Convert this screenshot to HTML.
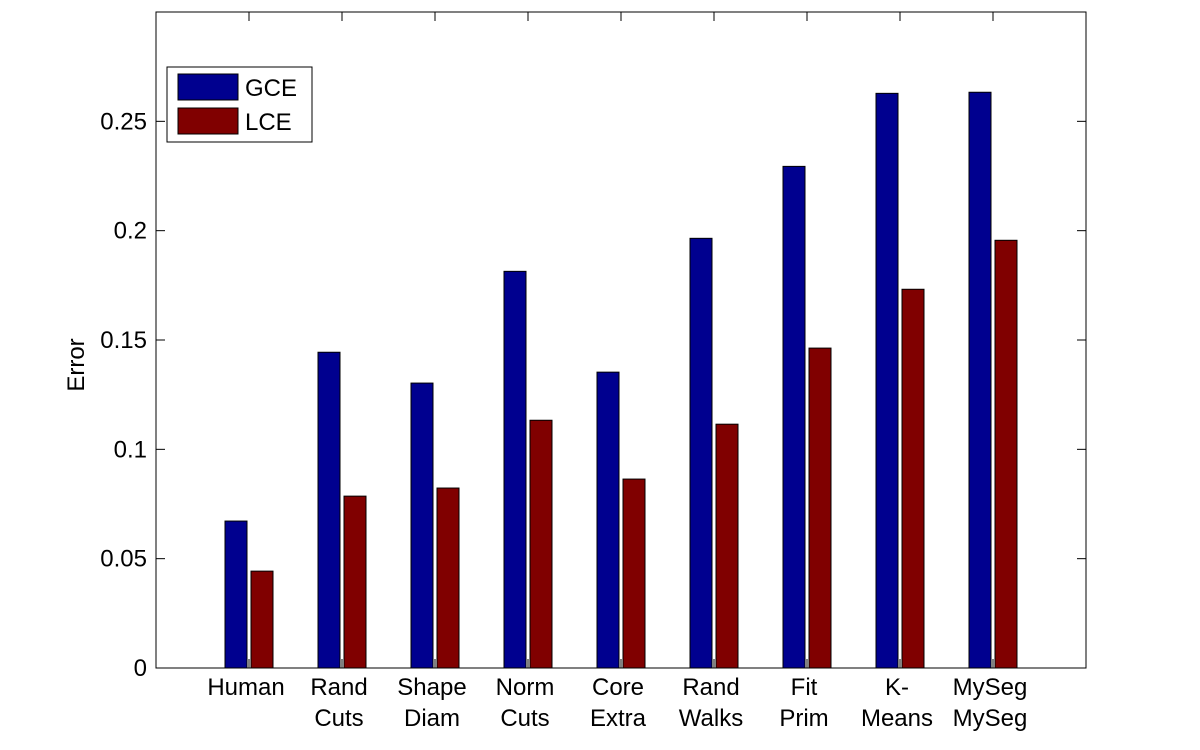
<!DOCTYPE html>
<html><head><meta charset="utf-8"><style>body{margin:0;background:#fff}svg{display:block;font-family:"Liberation Sans",sans-serif}</style></head>
<body>
<svg id="chart" width="1200" height="750" xmlns="http://www.w3.org/2000/svg">
<rect x="0" y="0" width="1200" height="750" fill="#fff"/>
<g id="plot"></g>
</svg>
<script>
const categories1 = ["Human","Rand","Shape","Norm","Core","Rand","Fit","K-","MySeg"];
const categories2 = ["","Cuts","Diam","Cuts","Extra","Walks","Prim","Means","MySeg"];
const gceValues = [0.0672,0.1444,0.1303,0.1814,0.1353,0.1965,0.2294,0.2628,0.2633];
const lceValues = [0.0443,0.0786,0.0823,0.1133,0.0864,0.1115,0.1463,0.1732,0.1956];
const yTicks = [0,0.05,0.1,0.15,0.2,0.25];
const yTickLabels = ["0","0.05","0.1","0.15","0.2","0.25"];
const L=156,R=1086,T=12,B=668;
const xS=v=>L+(R-L)*v/10;
const yS=v=>B-(B-T)*v/0.3;
const NS="http://www.w3.org/2000/svg";
const g=document.getElementById('plot');
function mk(t,a,txt){const e=document.createElementNS(NS,t);for(const k in a)e.setAttribute(k,a[k]);if(txt!==undefined)e.textContent=txt;g.appendChild(e);return e;}
mk('rect',{x:L,y:T,width:R-L,height:B-T,fill:'#fff',stroke:'none'});
gceValues.forEach((v,i)=>{const c=xS(i+1);
const b=mk('rect',{x:c-24,y:yS(v),width:22,height:yS(0)-yS(v),fill:'#00008f',stroke:'#000','stroke-width':1});

});
lceValues.forEach((v,i)=>{const c=xS(i+1);
const b=mk('rect',{x:c+2,y:yS(v),width:22,height:yS(0)-yS(v),fill:'#800000',stroke:'#000','stroke-width':1});

});
const ax=mk('rect',{x:L,y:T,width:R-L,height:B-T,fill:'none',stroke:'#000','stroke-width':1});


yTicks.forEach((v,i)=>{const y=yS(v);
mk('line',{x1:L,x2:L+9,y1:y,y2:y,stroke:'#000'});
mk('line',{x1:R,x2:R-9,y1:y,y2:y,stroke:'#000'});
const t=mk('text',{x:147,y:y+8,'text-anchor':'end','font-size':24},yTickLabels[i]);

});
categories1.forEach((c,i)=>{const x=xS(i+1);
mk('line',{x1:x,x2:x,y1:B,y2:B-9,stroke:'#000'});
mk('line',{x1:x,x2:x,y1:T,y2:T+9,stroke:'#000'});
const t=mk('text',{x:x-3,y:695,'text-anchor':'middle','font-size':24},c);


const t2=mk('text',{x:x-3,y:726,'text-anchor':'middle','font-size':24},categories2[i]);

});
const yl=mk('text',{x:0,y:0,'text-anchor':'middle','font-size':24,transform:'translate(84,365) rotate(-90)'},'Error');


const lg=mk('rect',{x:167,y:67,width:145,height:75,fill:'#fff',stroke:'#000'});


mk('rect',{x:178,y:74,width:60,height:26,fill:'#00008f',stroke:'#000'});
mk('rect',{x:178,y:108,width:60,height:26,fill:'#800000',stroke:'#000'});
const l1=mk('text',{x:245,y:96,'font-size':24},'GCE');


const l2=mk('text',{x:245,y:130,'font-size':24},'LCE');


</script>
</body></html>
